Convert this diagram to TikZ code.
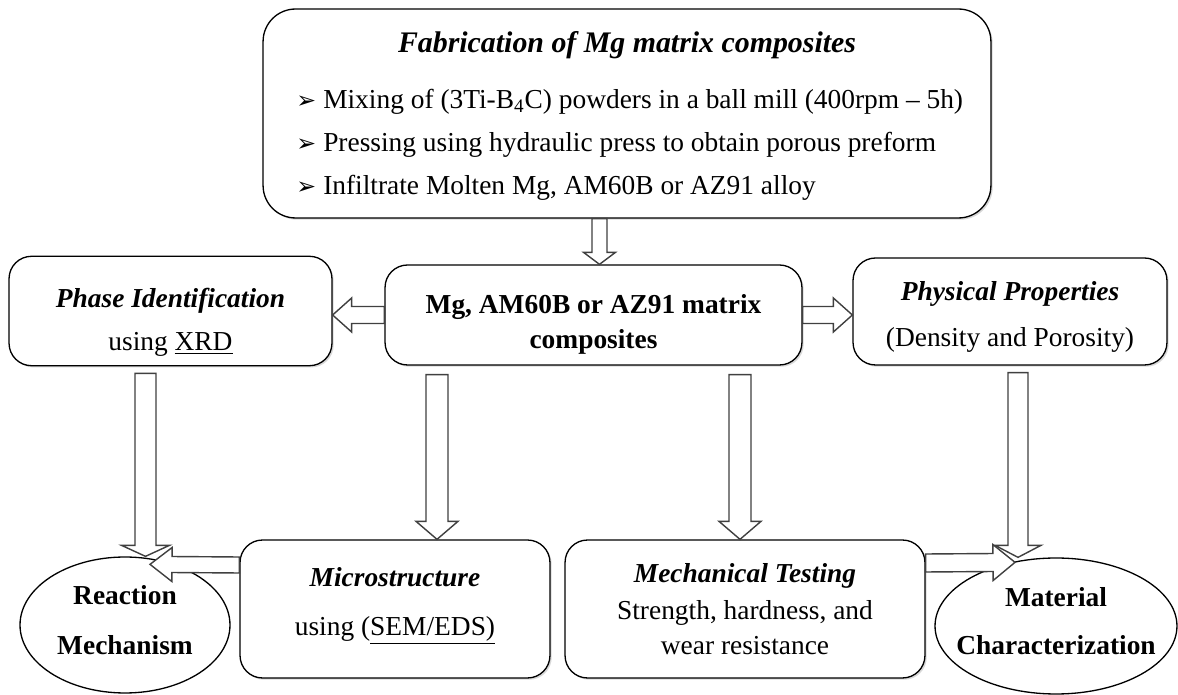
\documentclass[tikz,border=0pt]{standalone}
\usepackage{fontspec}
\setmainfont{Liberation Serif}
\newfontfamily\dingfont{DejaVu Sans}
\usetikzlibrary{calc,shapes.geometric,shadows}
\def\blockarrow(#1)(#2)[#3:#4:#5]{\draw[hollow] let \p1=(#1), \p2=(#2), \n1={atan2(\y2-\y1,\x2-\x1)} in ($(\p1)+(\n1+90:#3)$) -- ($(\p2)!#5!(\p1)+(\n1+90:#3)$) -- ($(\p2)!#5!(\p1)+(\n1+90:#4)$) -- (\p2) -- ($(\p2)!#5!(\p1)+(\n1-90:#4)$) -- ($(\p2)!#5!(\p1)+(\n1-90:#3)$) -- ($(\p1)+(\n1-90:#3)$) -- cycle;}
\newcommand{\topgap}[1]{\rule{0pt}{#1}}
\newcommand{\botgap}[1]{\rule[-#1]{0pt}{1pt}}
\newcommand{\tick}{{\dingfont\fontsize{13.5}{14}\selectfont ➢}\hspace{4pt}}

\begin{document}
\fontsize{15.6}{18.5}\selectfont
\begin{tikzpicture}[x=0.02cm, y=-0.02cm,
		box/.style={draw, line width=0.75pt, rounded corners=0.45cm, fill=white, align=center, drop shadow={opacity=0.3, shadow xshift=1pt, shadow yshift=-1pt}},
		oval/.style={draw, ellipse, line width=0.75pt, inner sep=0pt},
		hollow/.style={draw=black!75, fill=white, line width=0.8pt},
		bullet/.style={anchor=west, inner sep=0pt}]
		%%%%% START %%%%%
		\fill[white] (0, 0) rectangle (1178, 695);
		\useasboundingbox (0, 0) rectangle (1178, 695);
		
		\node[box, rounded corners=0.65cm, minimum width=14.56cm, minimum height=4.18cm] (fab) at (627, 113.5) {};
		\node[font=\fontsize{17}{20}\selectfont\bfseries\itshape] (fabtitle) at (627, 45) {Fabrication of Mg matrix composites};
		\node[bullet] (mixing) at (296, 102) {\tick Mixing of (3Ti-B\textsubscript{4}C) powders in a ball mill (400rpm – 5h)};
		\node[bullet] (pressing) at (296, 145) {\tick Pressing using hydraulic press to obtain porous preform};
		\node[bullet] (infiltrate) at (296, 188) {\tick Infiltrate Molten Mg, AM60B or AZ91 alloy};
		
		\node[box, minimum width=8.34cm, minimum height=2cm, font=\bfseries] (mat) at (593.5, 315) {\topgap{21pt}Mg, AM60B or AZ91 matrix\\[1.4pt]composites};
		\node[box, minimum width=6.46cm, minimum height=2.16cm] (phase) at (170.5, 311) {\topgap{24pt}\textbf{\textit{Phase Identification}}\\[6pt]using \underline{XRD}};
		\node[box, minimum width=6.28cm, minimum height=2.14cm] (phys) at (1010, 311.5) {\topgap{17pt}\textbf{\textit{Physical Properties}}\\[7.5pt](Density and Porosity)};
		
		\node[box, minimum width=6.2cm, minimum height=2.76cm] (micro) at (395, 609) {\textbf{\textit{Microstructure}}\\[9.3pt]using (\underline{SEM/EDS)}\botgap{9pt}};
		\node[box, minimum width=7.2cm, minimum height=2.76cm] (mech) at (745, 609) {\textbf{\textit{Mechanical Testing}}\\[2.5pt]Strength, hardness, and\\[1.3pt]wear resistance};
		
		\node[oval, minimum width=4.2cm, minimum height=2.72cm] (react) at (125, 625) {};
		\node[font=\bfseries, align=center] (reacttext) at ($(react)+(0, -5)$) {Reaction\\[10pt]Mechanism};
		\node[oval, minimum width=4.84cm, minimum height=2.72cm] (matchar) at (1056, 626) {};
		\node[font=\bfseries, align=center] (matchartext) at ($(matchar)+(0, -5)$) {Material\\[8.7pt]Characterization};
		
		\coordinate (a0) at ($(mat.north)+(6, 0)$);
		\coordinate (a0s) at (a0 |- fab.south);
		\blockarrow(a0s)(a0)[0.15cm:0.32cm:0.24cm]
		
		\coordinate (a1s) at (mat.west);
		\coordinate (a1) at (a1s -| phase.east);
		\blockarrow(a1s)(a1)[0.17cm:0.34cm:0.38cm]
		\coordinate (a2s) at (mat.east);
		\coordinate (a2) at (a2s -| phys.west);
		\blockarrow(a2s)(a2)[0.17cm:0.34cm:0.38cm]
		
		\coordinate (a3s) at ($(phase.south)+(-25, 7)$);
		\coordinate (a3) at (a3s |- react.north);
		\blockarrow(a3s)(a3)[0.21cm:0.48cm:0.22cm]
		\coordinate (a4s) at ($(phys.south)+(8, 7)$);
		\coordinate (a4) at (a4s |- matchar.north);
		\blockarrow(a4s)(a4)[0.2cm:0.46cm:0.24cm]
		
		\coordinate (a5) at ($(micro.north)+(42, 0)$);
		\coordinate (a5s) at ($(mat.south -| a5)+(0, 9)$);
		\blockarrow(a5s)(a5)[0.22cm:0.42cm:0.36cm]
		\coordinate (a6) at ($(mech.north)+(-5, 0)$);
		\coordinate (a6s) at ($(mat.south -| a6)+(0, 9)$);
		\blockarrow(a6s)(a6)[0.22cm:0.42cm:0.36cm]
		
		\coordinate (a7s) at ($(micro.west)+(0, -44)$);
		\coordinate (a7) at ($(react.north)+(25, 8)$);
		\blockarrow(a7s)(a7)[0.16cm:0.34cm:0.44cm]
		\coordinate (a8s) at ($(mech.east)+(0, -46)$);
		\coordinate (a8) at ($(matchar.north)+(-41, 5)$);
		\blockarrow(a8s)(a8)[0.18cm:0.36cm:0.44cm]
		
		%%%%% END %%%%%
\end{tikzpicture}
\end{document}
